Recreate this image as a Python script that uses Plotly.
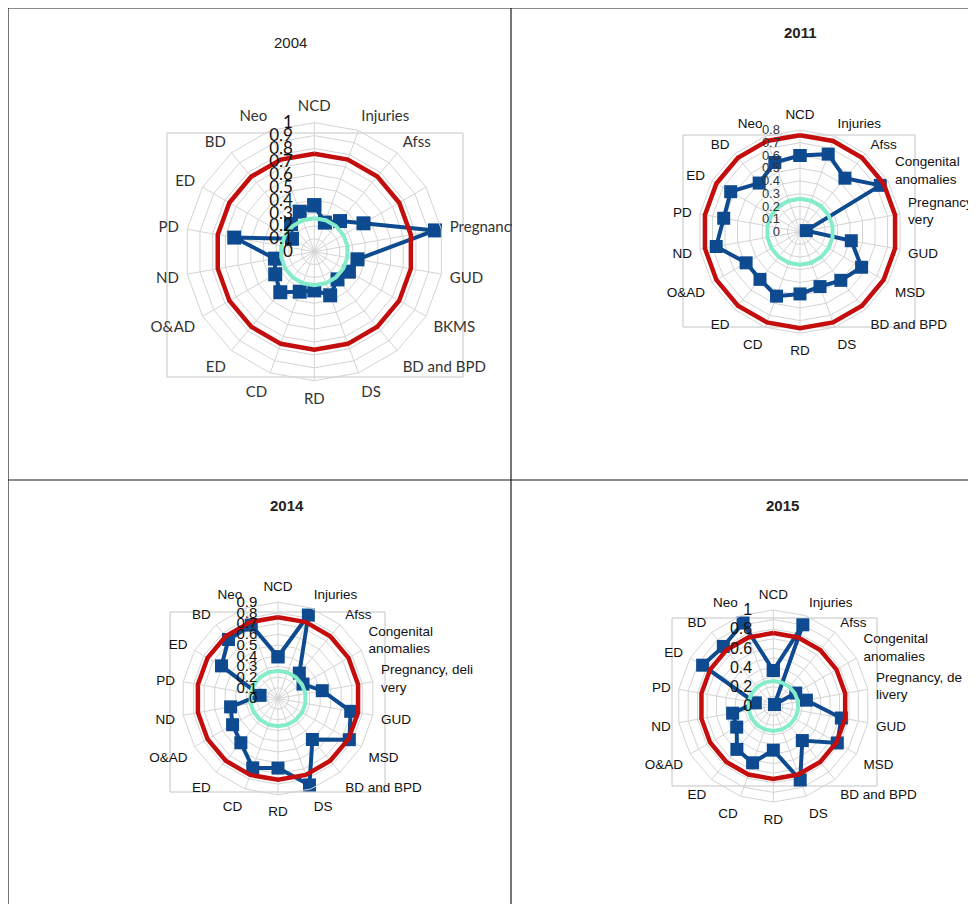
import plotly.graph_objects as go

# page offset of the browser body margin (8 px): reference pixel coords are shifted by it
OFF = 8
W, H = 976 - OFF, 904 - OFF

# ---------------- data ----------------
categories = ["NCD", "Injuries", "Afss", "Congenital anomalies", "Pregnancy, delivery",
              "GUD", "MSD", "BD and BPD", "DS", "RD", "CD", "ED", "O&AD", "ND",
              "PD", "ED", "BD", "Neo"]

labels_2004 = ["NCD", "Injuries", "Afss", "", "Pregnancy, delivery", "GUD", "BKMS",
               "BD and BPD", "DS", "RD", "CD", "ED", "O&AD", "ND", "PD", "ED", "BD", "Neo"]
labels_2011 = ["NCD", "Injuries", "Afss", "Congenital<br>anomalies", "Pregnancy, deli<br>very",
               "GUD", "MSD", "BD and BPD", "DS", "RD", "CD", "ED", "O&AD", "ND", "PD",
               "ED", "BD", "Neo"]
labels_2014 = ["NCD", "Injuries", "Afss", "Congenital<br>anomalies", "Pregnancy, deli<br>very",
               "GUD", "MSD", "BD and BPD", "DS", "RD", "CD", "ED", "O&AD", "ND", "PD",
               "ED", "BD", "Neo"]
labels_2015 = ["NCD", "Injuries", "Afss", "Congenital<br>anomalies", "Pregnancy, de<br>livery",
               "GUD", "MSD", "BD and BPD", "DS", "RD", "CD", "ED", "O&AD", "ND", "PD",
               "ED", "BD", "Neo"]

values_2004 = [0.36, 0.24, 0.31, 0.44, 0.95, 0.34, 0.31, 0.28, 0.36, 0.30, 0.33, 0.41,
               0.35, 0.31, 0.63, 0.20, 0.28, 0.33]
values_2011 = [0.60, 0.65, 0.55, 0.73, 0.05, 0.41, 0.56, 0.50, 0.46, 0.49, 0.54, 0.49,
               0.49, 0.67, 0.61, 0.63, 0.50, 0.58]
values_2014 = [0.39, 0.83, 0.31, 0.27, 0.42, 0.69, 0.77, 0.50, 0.86, 0.65, 0.69, 0.54,
               0.49, 0.45, 0.17, 0.61, 0.72, 0.73]
values_2015 = [0.37, 0.90, 0.02, 0.27, 0.35, 0.72, 0.77, 0.47, 0.82, 0.46, 0.63, 0.59,
               0.44, 0.43, 0.19, 0.85, 0.81, 0.92]

upper_level = 0.76   # red reference ring
lower_level = 0.26   # green reference ring

radial_ticks_2004 = [0, 0.1, 0.2, 0.3, 0.4, 0.5, 0.6, 0.7, 0.8, 0.9, 1]
radial_text_2004 = ["0", "0.1", "0.2", "0.3", "0.4", "0.5", "0.6", "0.7", "0.8", "0.9", "1"]
radial_ticks_2011 = [0, 0.1, 0.2, 0.3, 0.4, 0.5, 0.6, 0.7, 0.8]
radial_text_2011 = ["0", "0.1", "0.2", "0.3", "0.4", "0.5", "0.6", "0.7", "0.8"]
radial_ticks_2014 = [0, 0.1, 0.2, 0.3, 0.4, 0.5, 0.6, 0.7, 0.8, 0.9]
radial_text_2014 = ["0", "0.1", "0.2", "0.3", "0.4", "0.5", "0.6", "0.7", "0.8", "0.9"]
radial_ticks_2015 = [0, 0.1, 0.2, 0.3, 0.4, 0.5, 0.6, 0.7, 0.8, 0.9, 1]
radial_text_2015 = ["0", "", "0.2", "", "0.4", "", "0.6", "", "0.8", "", "1"]

# unique keys for the category axis (labels repeat: ED, BD)
theta_keys = [f"{i:02d}|{c}" for i, c in enumerate(categories)]

# ---------------- styling ----------------
BLUE = "#0d4a8f"
RED = "#c40d0d"
GREEN = "#84ecc9"
GRID = "#d4d4d4"
BOXC = "#c4c4c4"

panels = [
    dict(year="2004", vals=values_2004, labels=labels_2004, rt=radial_ticks_2004, rx=radial_text_2004,
         rmax=1.0, c=(314.3, 251.7), s=129, box=(167, 133, 463, 377), tpos=(290, 42),
         afont=dict(family="Lato, 'Open Sans', sans-serif", size=15, color="#333333"),
         rfont=dict(family="Lato, sans-serif", size=17, color="#111111"),
         tbold=False, msize=14, lw=4),
    dict(year="2011", vals=values_2011, labels=labels_2011, rt=radial_ticks_2011, rx=radial_text_2011,
         rmax=0.8, c=(800, 231.7), s=127, box=(683, 135, 915, 327), tpos=(800, 33),
         afont=dict(family="Liberation Sans, Arial, sans-serif", size=13.5, color="#111111"),
         rfont=dict(family="Liberation Sans, Arial, sans-serif", size=13, color="#333333"),
         tbold=True, msize=13, lw=4),
    dict(year="2014", vals=values_2014, labels=labels_2014, rt=radial_ticks_2014, rx=radial_text_2014,
         rmax=0.9, c=(278, 698.5), s=107, box=(170, 612, 385, 792), tpos=(287, 505),
         afont=dict(family="Liberation Sans, Arial, sans-serif", size=13.5, color="#111111"),
         rfont=dict(family="Liberation Sans, Arial, sans-serif", size=15, color="#111111"),
         tbold=True, msize=13, lw=4),
    dict(year="2015", vals=values_2015, labels=labels_2015, rt=radial_ticks_2015, rx=radial_text_2015,
         rmax=1.0, c=(773.3, 706), s=96, box=(672, 618, 877, 786), tpos=(782, 505),
         afont=dict(family="Liberation Sans, Arial, sans-serif", size=13.5, color="#111111"),
         rfont=dict(family="Liberation Sans, Arial, sans-serif", size=16, color="#111111"),
         tbold=True, msize=13, lw=4),
]

fig = go.Figure()
layout_polars = {}
shapes = []
annotations = []


def px_x(x):
    return (x - OFF) / W


def px_y(y):
    return 1 - (y - OFF) / H


for i, p in enumerate(panels):
    name = "polar" if i == 0 else f"polar{i + 1}"
    closed_theta = theta_keys + [theta_keys[0]]
    vals = p["vals"]
    fig.add_trace(go.Scatterpolar(
        r=vals + [vals[0]], theta=closed_theta, subplot=name, mode="lines+markers",
        line=dict(color=BLUE, width=p["lw"]),
        marker=dict(symbol="square", size=p["msize"], color=BLUE),
        cliponaxis=False, showlegend=False, hoverinfo="skip"))
    fig.add_trace(go.Scatterpolar(
        r=[upper_level] * len(closed_theta), theta=closed_theta, subplot=name, mode="lines",
        line=dict(color=RED, width=4.5), showlegend=False, hoverinfo="skip"))
    fig.add_trace(go.Scatterpolar(
        r=[lower_level] * len(closed_theta), theta=closed_theta, subplot=name, mode="lines",
        line=dict(color=GREEN, width=4), showlegend=False, hoverinfo="skip"))

    cx, cy = p["c"]
    R = p["s"] * p["rmax"]
    layout_polars[name] = dict(
        domain=dict(x=[px_x(cx - R), px_x(cx + R)], y=[px_y(cy + R), px_y(cy - R)]),
        gridshape="linear",
        bgcolor="rgba(0,0,0,0)",
        radialaxis=dict(range=[0, p["rmax"]], tickmode="array", tickvals=p["rt"], ticktext=p["rx"],
                        angle=90, tickangle=90, side="counterclockwise", ticks="outside", ticklen=15,
                        tickcolor="rgba(0,0,0,0)", showline=False, gridcolor=GRID, gridwidth=1,
                        tickfont=p["rfont"], layer="above traces"),
        angularaxis=dict(type="category", direction="clockwise", rotation=90,
                         tickmode="array", tickvals=theta_keys, ticktext=p["labels"],
                         gridcolor=GRID, linecolor=GRID, showline=True, linewidth=1,
                         ticks="outside", ticklen=5, tickcolor="rgba(0,0,0,0)",
                         tickfont=p["afont"]),
    )
    bx0, by0, bx1, by1 = p["box"]
    shapes.append(dict(type="rect", xref="paper", yref="paper", x0=px_x(bx0), x1=px_x(bx1),
                       y0=px_y(by1), y1=px_y(by0), line=dict(color=BOXC, width=1), layer="below"))
    tx, ty = p["tpos"]
    annotations.append(dict(text=f"<b>{p['year']}</b>" if p["tbold"] else p["year"],
                            x=px_x(tx), y=px_y(ty), xref="paper", yref="paper", showarrow=False,
                            xanchor="center", yanchor="middle",
                            font=dict(family="Liberation Sans, Arial, sans-serif", size=15,
                                      color="#222222")))

# hide the 2004 labels that overflow the left cell
shapes.append(dict(type="rect", xref="paper", yref="paper", x0=px_x(512), x1=px_x(644),
                   y0=px_y(420), y1=px_y(100), line=dict(width=0), fillcolor="white", layer="above"))

# table cell borders
border = dict(color="#1a1a1a", width=1.2)
for (x0, y0, x1, y1) in [(8, 8, 976, 8), (8, 8, 8, 904), (511, 8, 511, 904), (8, 480, 976, 480)]:
    shapes.append(dict(type="line", xref="paper", yref="paper", x0=px_x(x0), x1=px_x(x1),
                       y0=px_y(y0), y1=px_y(y1), line=border, layer="above"))

fig.update_layout(
    width=W, height=H, margin=dict(l=0, r=0, t=0, b=0),
    paper_bgcolor="white", plot_bgcolor="white",
    shapes=shapes, annotations=annotations, showlegend=False,
    **layout_polars,
)

fig.write_html("out.html")
